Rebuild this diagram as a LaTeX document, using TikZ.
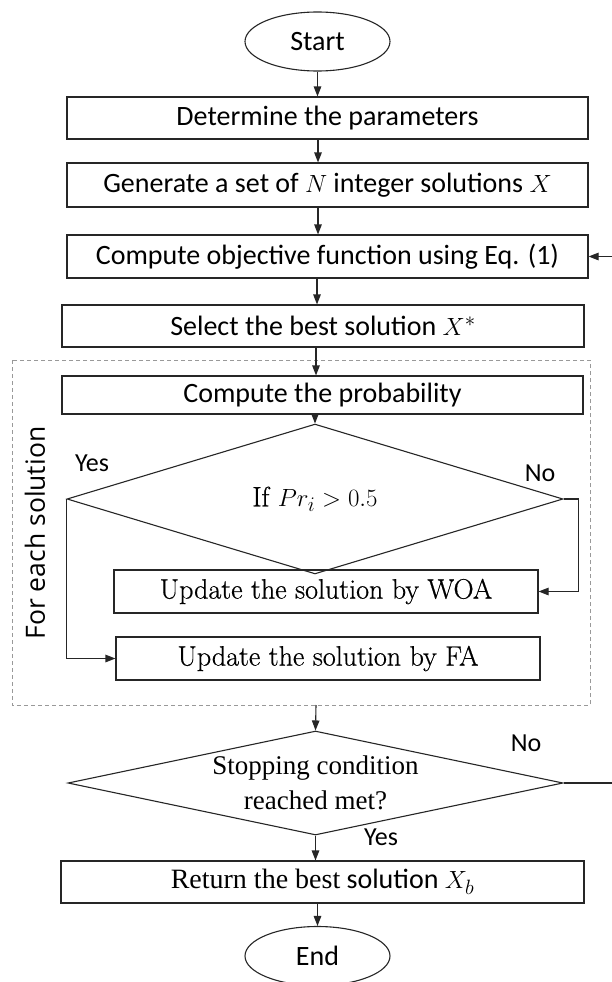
\documentclass[tikz,border=0pt]{standalone}
\usepackage{fontspec}
\setmainfont{Carlito}
\newfontfamily\tnr{Liberation Serif}
\newfontfamily\lmr[FakeBold=0.6]{Latin Modern Roman}
\newfontfamily\osans{Open Sans}
\usetikzlibrary{shapes.geometric,arrows.meta}
\begin{document}
\begin{tikzpicture}[x=1pt,y=-1pt,
  every node/.style={font=\fontsize{28}{32}\selectfont, text=black},
  box/.style={draw=black!85, line width=1.1pt, rectangle, inner sep=0pt, minimum width=521pt},
  term/.style={draw=black!85, line width=1.1pt, ellipse, inner sep=0pt, minimum width=145pt, minimum height=59pt},
  dec/.style={draw=black!85, line width=1.1pt, diamond, inner sep=0pt},
  arr/.style={draw=black!85, line width=1.1pt, -{Triangle[length=10pt,width=7.5pt]}},
  lbl/.style={font=\fontsize{26}{30}\selectfont}
]
\useasboundingbox (0,0) rectangle (611,982);
\fill[white] (0,0) rectangle (611,982);

% dashed group
\draw[black!40, line width=1pt, dash pattern=on 4pt off 3pt] (12,360) rectangle (590,705);
\node[rotate=90, font=\osans\fontsize{26.5}{30}\selectfont] (grp) at (35,533) {For each solution};

\node[term] (start) at (317.5,41.5) {Start};
\node[box, minimum height=42pt] (b1) at (327.5,118) {Determine the parameters};
\node[box, minimum height=44pt] (b2) at (327.5,185) {Generate a set of $N$ integer solutions $X$};
\node[box, minimum height=43pt] (b3) at (327.5,256.5) {Compute objective function using Eq. (1)};
\node[box, minimum width=522pt, minimum height=42pt] (b4) at (323,326) {Select the best solution $X^{*}$};
\node[box, minimum height=38pt] (b5) at (322.5,395) {Compute the probability};
\node[dec, minimum width=496pt, minimum height=118pt, font=\lmr\fontsize{28}{32}\selectfont] (d1) at (315,499) {If $Pr_i>0.5$};
\node[box, minimum width=424pt, minimum height=43pt, font=\lmr\fontsize{28}{32}\selectfont] (woa) at (326,591.5) {Update the solution by WOA};
\node[box, minimum width=424pt, minimum height=43pt, font=\lmr\fontsize{28}{32}\selectfont] (fa) at (328,658.5) {Update the solution by FA};
\node[dec, minimum width=495pt, minimum height=104pt] (d2) at (315.5,783) {};
\node[align=center, font=\tnr\fontsize{27}{35}\selectfont] (d2t) at (d2.center) {Stopping condition\\reached met?};
\node[box, minimum width=523pt, minimum height=42pt] (ret) at (322.5,882) {{\tnr Return the best} solution $X_b$};
\node[term] (end) at (317.5,956) {End};

\node[lbl] (yes1) at (92,463) {Yes};
\node[lbl] (no1) at (540,473) {No};
\node[lbl] (no2) at (526,743) {No};
\node[lbl] (yes2) at (381,837) {Yes};

\draw[arr] (start.south) -- (start.south |- b1.north);
\draw[arr] (b1.south -| 318,0) -- (318,0 |- b2.north);
\draw[arr] (b2.south -| 318,0) -- (318,0 |- b3.north);
\draw[arr] (b3.south -| 317,0) -- (317,0 |- b4.north);
\draw[arr] (b4.south -| 316,0) -- (316,0 |- b5.north);
\draw[arr] (b5.south -| d1.north) -- (d1.north);
\draw[arr] (d1.west) |- (fa.west);
\draw[arr] (d1.east) -- ++(15,0) |- (woa.east);
\draw[arr] (316,705) -- (d2.north);
\draw[arr] (d2.south) -- (d2.south |- ret.north);
\draw[arr] (ret.south -| end.north) -- (end.north);
\draw[arr] (d2.east) -- (650,783) |- (b3.east);
\end{tikzpicture}
\end{document}
